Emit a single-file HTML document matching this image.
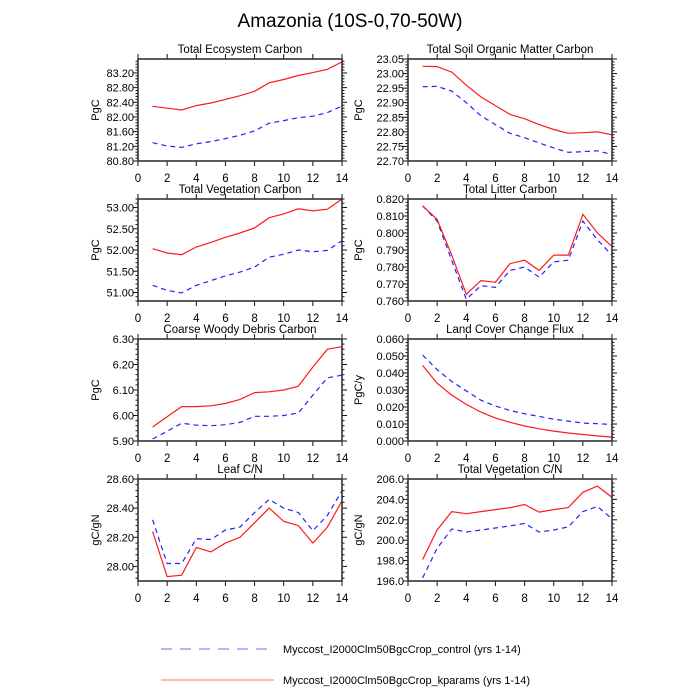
<!DOCTYPE html>
<html><head><meta charset="utf-8"><style>
html,body{margin:0;padding:0;background:#fff;}
svg{display:block;font-family:"Liberation Sans",Arial,sans-serif;}
</style></head><body>
<svg id="s" width="700" height="700" xmlns="http://www.w3.org/2000/svg">
<text x="350" y="27" font-size="19" text-anchor="middle">Amazonia (10S-0,70-50W)</text>
<line x1="161" y1="649" x2="274" y2="649" stroke="#6a6aff" stroke-width="1" stroke-dasharray="11,8"/>
<text x="283" y="653" font-size="11">Myccost_I2000Clm50BgcCrop_control (yrs 1-14)</text>
<line x1="161" y1="680" x2="274" y2="680" stroke="#ff7070" stroke-width="1"/>
<text x="283" y="684" font-size="11">Myccost_I2000Clm50BgcCrop_kparams (yrs 1-14)</text>
</svg>
<script>
var P=[
{t:"Total Ecosystem Carbon",yl:"PgC",c:0,r:0,min:80.8,max:83.58,t0:80.8,st:0.4,d:2,
 red:[82.29,82.24,82.19,82.31,82.38,82.48,82.58,82.70,82.93,83.02,83.13,83.21,83.30,83.50],
 blue:[81.30,81.21,81.17,81.27,81.33,81.41,81.50,81.62,81.83,81.90,81.98,82.02,82.12,82.30]},
{t:"Total Soil Organic Matter Carbon",yl:"PgC",c:1,r:0,min:22.70,max:23.05,t0:22.70,st:0.05,d:2,
 red:[23.025,23.024,23.005,22.96,22.92,22.89,22.86,22.845,22.825,22.808,22.795,22.797,22.80,22.79],
 blue:[22.955,22.956,22.94,22.90,22.855,22.825,22.795,22.78,22.762,22.745,22.73,22.732,22.735,22.722]},
{t:"Total Vegetation Carbon",yl:"PgC",c:0,r:1,min:50.8,max:53.2,t0:51.0,st:0.5,d:2,
 red:[52.03,51.93,51.89,52.07,52.18,52.30,52.40,52.52,52.76,52.85,52.97,52.92,52.96,53.2],
 blue:[51.17,51.05,50.99,51.17,51.28,51.39,51.48,51.60,51.83,51.90,52.00,51.96,51.99,52.22]},
{t:"Total Litter Carbon",yl:"PgC",c:1,r:1,min:0.760,max:0.820,t0:0.760,st:0.01,d:3,
 red:[0.816,0.808,0.787,0.764,0.772,0.771,0.782,0.784,0.778,0.787,0.787,0.811,0.800,0.792],
 blue:[0.816,0.807,0.784,0.761,0.769,0.768,0.778,0.780,0.774,0.783,0.784,0.807,0.796,0.787]},
{t:"Coarse Woody Debris Carbon",yl:"PgC",c:0,r:2,min:5.9,max:6.3,t0:5.9,st:0.1,d:2,
 red:[5.955,5.995,6.035,6.035,6.038,6.047,6.063,6.09,6.093,6.10,6.115,6.19,6.26,6.27],
 blue:[5.908,5.938,5.97,5.962,5.96,5.964,5.973,5.997,5.997,6.0,6.01,6.08,6.148,6.158]},
{t:"Land Cover Change Flux",yl:"PgC/y",c:1,r:2,min:0,max:0.06,t0:0,st:0.01,d:3,
 red:[0.0445,0.034,0.027,0.0215,0.017,0.0135,0.011,0.0088,0.0072,0.0058,0.0047,0.0038,0.003,0.0023],
 blue:[0.0505,0.042,0.035,0.0295,0.024,0.0205,0.018,0.016,0.0145,0.0128,0.0117,0.0105,0.0102,0.0097]},
{t:"Leaf C/N",yl:"gC/gN",c:0,r:3,min:27.9,max:28.6,t0:28.0,st:0.2,d:2,
 red:[28.24,27.93,27.94,28.13,28.10,28.16,28.20,28.30,28.40,28.31,28.28,28.16,28.27,28.45],
 blue:[28.32,28.02,28.02,28.19,28.185,28.25,28.27,28.37,28.46,28.40,28.37,28.245,28.35,28.52]},
{t:"Total Vegetation C/N",yl:"gC/gN",c:1,r:3,min:196,max:206,t0:196,st:2,d:1,
 red:[198.1,201.0,202.8,202.6,202.8,203.0,203.2,203.5,202.75,203.0,203.2,204.7,205.3,204.2],
 blue:[196.3,199.2,201.1,200.8,201.0,201.2,201.4,201.65,200.8,201.0,201.3,202.8,203.3,202.1]}
];
var h="";
P.forEach(function(p){
 var L=p.c?408:138,W=204,T=59+140*p.r,H=102,B=T+H,R=L+W;
 function X(x){return L+x*W/14;}
 function Y(v){return B-(v-p.min)/(p.max-p.min)*H;}
 h+='<text x="'+(L+W/2)+'" y="'+(T-6)+'" font-size="11.5" text-anchor="middle">'+p.t+'</text>';
 for(var i=0;i<=14;i+=2){var x=X(i);
  h+='<line x1="'+x+'" y1="'+T+'" x2="'+x+'" y2="'+(T-5)+'" stroke="#111" stroke-width="1"/>';
  h+='<line x1="'+x+'" y1="'+B+'" x2="'+x+'" y2="'+(B+5)+'" stroke="#111" stroke-width="1"/>';
  h+='<text x="'+x+'" y="'+(B+21)+'" font-size="11.5" text-anchor="middle">'+i+'</text>';}
 var ms=p.st/5;
 var start=Math.ceil((p.min-1e-9)/ms);
 for(var k=start;k*ms<=p.max+1e-9;k++){var v=k*ms,y=Y(v);
  var maj=Math.abs(((v-p.t0)/p.st)-Math.round((v-p.t0)/p.st))<1e-6;
  var len=maj?5:2.5;
  h+='<line x1="'+L+'" y1="'+y+'" x2="'+(L-len)+'" y2="'+y+'" stroke="#111" stroke-width="1"/>';
  h+='<line x1="'+R+'" y1="'+y+'" x2="'+(R+len)+'" y2="'+y+'" stroke="#111" stroke-width="1"/>';
  if(maj) h+='<text x="'+(L-4)+'" y="'+(y+4)+'" font-size="11" text-anchor="end">'+v.toFixed(p.d)+'</text>';
 }
 var yx=p.c?362:99;
 h+='<text x="'+yx+'" y="'+(T+H/2)+'" font-size="11" text-anchor="middle" transform="rotate(-90 '+yx+' '+(T+H/2)+')">'+p.yl+'</text>';
 function pts(a){return a.map(function(v,i){return X(i+1).toFixed(1)+','+Y(v).toFixed(1);}).join(' ');}
 h+='<polyline points="'+pts(p.blue)+'" fill="none" stroke="#2222ff" stroke-width="1.2" stroke-dasharray="5,4"/>';
 h+='<polyline points="'+pts(p.red)+'" fill="none" stroke="#ff1a1a" stroke-width="1.2"/>';
 h+='<rect x="'+L+'" y="'+T+'" width="'+W+'" height="'+H+'" fill="none" stroke="#333" stroke-width="1.6"/>';
});
document.getElementById("s").insertAdjacentHTML("beforeend",h);
</script>
</body></html>
